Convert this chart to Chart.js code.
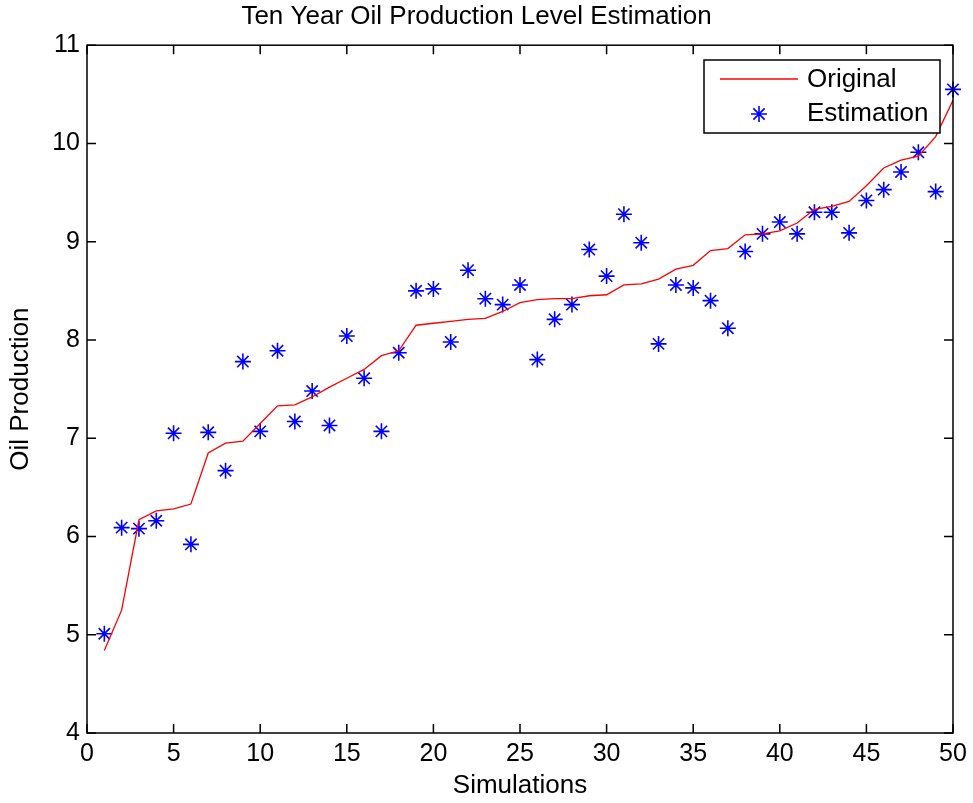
<!DOCTYPE html>
<html>
<head>
<meta charset="utf-8">
<script src="https://cdn.jsdelivr.net/npm/chart.js@4"></script>
<style>
  body { margin: 0; background: #fff; }
  #wrap { width: 973px; height: 803px; }
</style>
</head>
<body>
<div id="wrap"><canvas id="oilChart"></canvas></div>
<script>
var simulations = [1, 2, 3, 4, 5, 6, 7, 8, 9, 10, 11, 12, 13, 14, 15, 16, 17, 18, 19, 20,
    21, 22, 23, 24, 25, 26, 27, 28, 29, 30, 31, 32, 33, 34, 35, 36, 37, 38, 39, 40,
    41, 42, 43, 44, 45, 46, 47, 48, 49, 50];
var original = [4.84, 5.25, 6.17, 6.26, 6.28, 6.33, 6.85, 6.95, 6.97, 7.15,
    7.33, 7.34, 7.42, 7.52, 7.61, 7.70, 7.84, 7.89, 8.15, 8.17,
    8.19, 8.21, 8.22, 8.29, 8.38, 8.41, 8.42, 8.42, 8.45, 8.46,
    8.56, 8.57, 8.62, 8.72, 8.76, 8.91, 8.93, 9.07, 9.08, 9.11,
    9.19, 9.33, 9.36, 9.41, 9.57, 9.75, 9.83, 9.87, 10.07, 10.44];
var estimation = [5.01, 6.09, 6.08, 6.16, 7.05, 5.92, 7.06, 6.67, 7.78, 7.07,
    7.89, 7.17, 7.48, 7.13, 8.04, 7.61, 7.07, 7.87, 8.50, 8.52,
    7.98, 8.71, 8.42, 8.36, 8.56, 7.80, 8.21, 8.36, 8.92, 8.65,
    9.28, 8.99, 7.96, 8.56, 8.53, 8.40, 8.12, 8.90, 9.08, 9.20,
    9.08, 9.30, 9.30, 9.09, 9.42, 9.53, 9.71, 9.91, 9.51, 10.55];
var xTicks = [0, 5, 10, 15, 20, 25, 30, 35, 40, 45, 50];
var yTicks = [4, 5, 6, 7, 8, 9, 10, 11];

var FONT = "'Liberation Sans', Arial, Helvetica, sans-serif";

// matlab style box: frame, inward ticks on all sides, legend in the corner
var boxPlugin = {
    id: 'matlabBox',
    afterDraw: function (chart) {
        var ctx = chart.ctx;
        var a = chart.chartArea;
        var xs = chart.scales.x, ys = chart.scales.y;
        var tick = 9;
        ctx.save();
        ctx.strokeStyle = '#000';
        ctx.lineWidth = 1.5;
        ctx.beginPath();
        xTicks.forEach(function (v) {
            var px = xs.getPixelForValue(v);
            ctx.moveTo(px, a.bottom); ctx.lineTo(px, a.bottom - tick);
            ctx.moveTo(px, a.top); ctx.lineTo(px, a.top + tick);
        });
        yTicks.forEach(function (v) {
            var py = ys.getPixelForValue(v);
            ctx.moveTo(a.left, py); ctx.lineTo(a.left + tick, py);
            ctx.moveTo(a.right, py); ctx.lineTo(a.right - tick, py);
        });
        ctx.stroke();
        ctx.strokeRect(a.left, a.top, a.right - a.left, a.bottom - a.top);

        // legend
        var lx = 704, ly = 60, lw = 236, lh = 73;
        ctx.fillStyle = '#fff';
        ctx.fillRect(lx, ly, lw, lh);
        ctx.lineWidth = 1.5;
        ctx.strokeRect(lx, ly, lw, lh);
        var ds = chart.data.datasets;
        ctx.strokeStyle = ds[0].borderColor;
        ctx.lineWidth = ds[0].borderWidth;
        ctx.beginPath();
        ctx.moveTo(720, 79); ctx.lineTo(798, 79);
        ctx.stroke();
        ctx.strokeStyle = ds[1].borderColor;
        ctx.lineWidth = ds[1].borderWidth;
        Chart.helpers.drawPoint(ctx, { pointStyle: 'star', radius: ds[1].pointRadius, rotation: 0, borderWidth: ds[1].borderWidth }, 759, 114);
        ctx.fillStyle = '#000';
        ctx.font = '26px ' + FONT;
        ctx.textBaseline = 'middle';
        ctx.textAlign = 'left';
        ctx.fillText(ds[0].label, 807, 80);
        ctx.fillText(ds[1].label, 807, 114);
        ctx.restore();
    }
};

var ctx = document.getElementById('oilChart').getContext('2d');
var oilChart = new Chart(ctx, {
    type: 'scatter',
    data: {
        datasets: [{
            label: 'Original',
            type: 'line',
            data: simulations.map(function (s, i) { return { x: s, y: original[i] }; }),
            borderColor: 'rgb(255, 0, 0)',
            borderWidth: 1.3,
            pointRadius: 0,
            tension: 0,
            fill: false
        }, {
            label: 'Estimation',
            data: simulations.map(function (s, i) { return { x: s, y: estimation[i] }; }),
            pointStyle: 'star',
            pointRadius: 8,
            borderColor: 'rgb(0, 0, 255)',
            backgroundColor: 'rgb(0, 0, 255)',
            borderWidth: 1.6,
            clip: false
        }]
    },
    options: {
        responsive: true,
        maintainAspectRatio: false,
        animation: false,
        layout: { padding: { left: 0, right: 20, top: 0, bottom: 0 } },
        plugins: {
            legend: { display: false },
            tooltip: { enabled: false },
            title: {
                display: true,
                text: 'Ten Year Oil Production Level Estimation',
                color: '#000',
                font: { family: FONT, size: 26, weight: 'normal' },
                padding: { top: 1, bottom: 13 }
            }
        },
        scales: {
            x: {
                type: 'linear',
                min: 0,
                max: 50,
                afterFit: function (scale) { scale.height = 70; },
                afterBuildTicks: function (scale) {
                    scale.ticks = xTicks.map(function (v) { return { value: v }; });
                },
                grid: { display: false, drawTicks: false },
                border: { display: false },
                ticks: {
                    color: '#000',
                    padding: 6,
                    maxRotation: 0,
                    font: { family: FONT, size: 25 }
                },
                title: {
                    display: true,
                    text: 'Simulations',
                    color: '#000',
                    font: { family: FONT, size: 26 },
                    padding: { top: 0, bottom: 2 }
                }
            },
            y: {
                type: 'linear',
                min: 4,
                max: 11,
                afterFit: function (scale) { scale.width = 87; },
                afterBuildTicks: function (scale) {
                    scale.ticks = yTicks.map(function (v) { return { value: v }; });
                },
                grid: { display: false, drawTicks: false },
                border: { display: false },
                ticks: {
                    color: '#000',
                    padding: 7,
                    font: { family: FONT, size: 25 }
                },
                title: {
                    display: true,
                    text: 'Oil Production',
                    color: '#000',
                    font: { family: FONT, size: 26 },
                    padding: { top: 5, bottom: 0 }
                }
            }
        }
    },
    plugins: [boxPlugin]
});
</script>
</body>
</html>
